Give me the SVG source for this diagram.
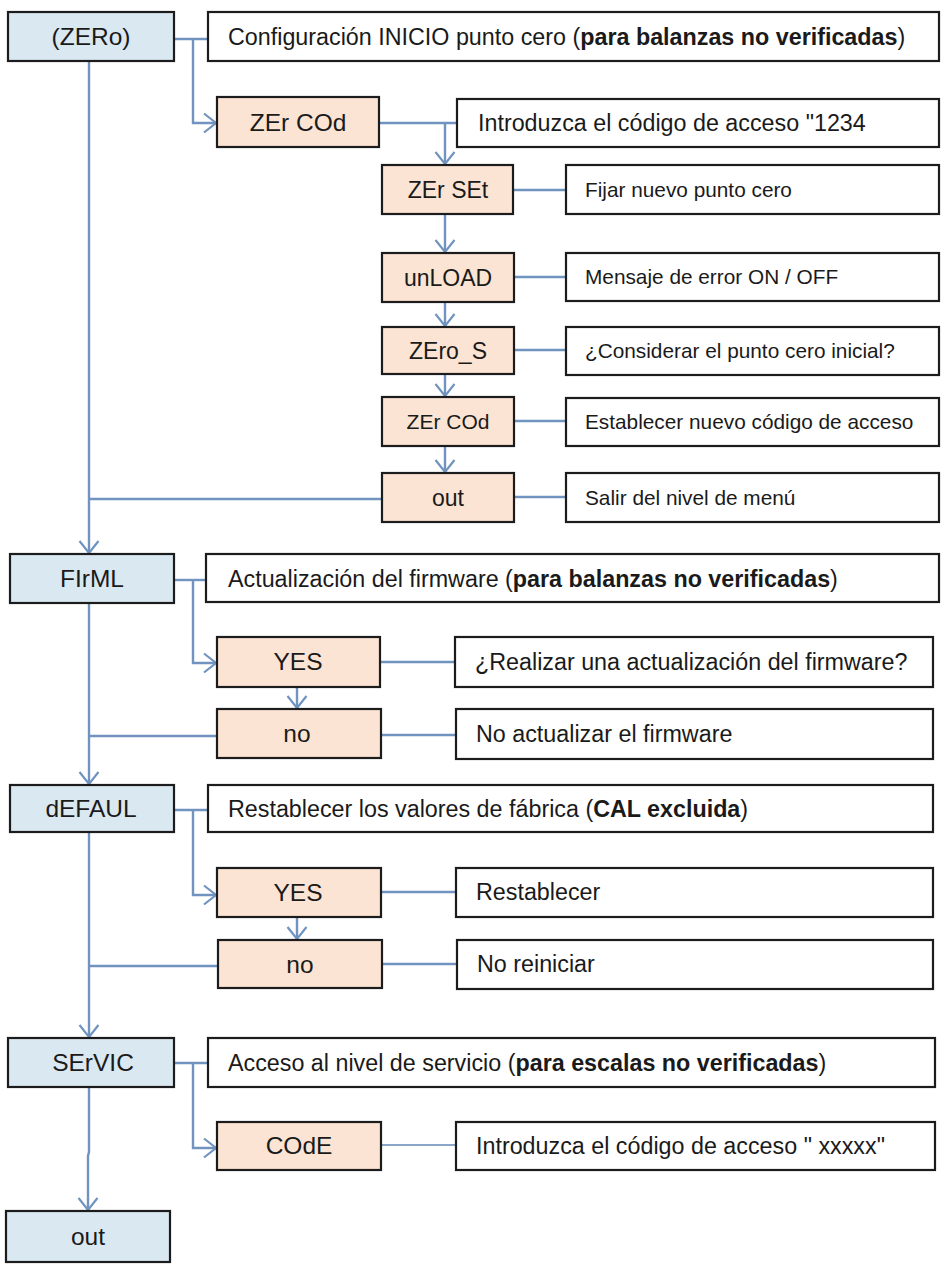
<svg xmlns="http://www.w3.org/2000/svg" width="945" height="1267" viewBox="0 0 945 1267">
<style>
.bg{fill:#ffffff}
.main rect{fill:#dae8f2;stroke:#1c1c1c;stroke-width:2.2}
.sub rect{fill:#fbe4d3;stroke:#1c1c1c;stroke-width:2.2}
.desc rect{fill:#ffffff;stroke:#1c1c1c;stroke-width:2.2}
text{font-family:"Liberation Sans",Arial,Helvetica,sans-serif;fill:#1a1a1a}
.lbl{font-size:24.5px;text-anchor:middle}
.lbls{font-size:23px;text-anchor:middle}
.d{font-size:23.3px}
.ds{font-size:20.8px}
.b{font-weight:bold}
.c{fill:none;stroke:#7093bf;stroke-width:2.4}
.c2{fill:none;stroke:#8aa6c8;stroke-width:1.8}
</style>
<defs>
<marker id="ah" markerWidth="16" markerHeight="22" refX="13" refY="11" orient="auto" markerUnits="userSpaceOnUse">
<path d="M1,1.5 L13,11 L1,20.5" fill="none" stroke="#7093bf" stroke-width="2.2"/>
</marker>
</defs>
<rect class="bg" x="0" y="0" width="945" height="1267"/>

<g id="connectors">
<path class="c" d="M174,39 H208"/>
<path class="c" d="M193,39 V123 H216" marker-end="url(#ah)"/>
<path class="c" d="M89,61 V553" marker-end="url(#ah)"/>
<path class="c" d="M379,123 H457"/>
<path class="c" d="M445,123 V164" marker-end="url(#ah)"/>
<path class="c" d="M513,190 H566"/>
<path class="c" d="M445,214 V252" marker-end="url(#ah)"/>
<path class="c" d="M514,277 H566"/>
<path class="c" d="M445,302 V326" marker-end="url(#ah)"/>
<path class="c" d="M514,350 H566"/>
<path class="c" d="M445,374 V396" marker-end="url(#ah)"/>
<path class="c" d="M514,421 H566"/>
<path class="c" d="M445,446 V472" marker-end="url(#ah)"/>
<path class="c" d="M514,497 H566"/>
<path class="c" d="M382,499 H89"/>
<path class="c" d="M174,580 H206"/>
<path class="c" d="M193,580 V663 H216" marker-end="url(#ah)"/>
<path class="c" d="M89,603 V784" marker-end="url(#ah)"/>
<path class="c" d="M380,662 H455"/>
<path class="c" d="M297,687 V708" marker-end="url(#ah)"/>
<path class="c" d="M381,735 H456"/>
<path class="c" d="M217,736 H89"/>
<path class="c" d="M174,810 H208"/>
<path class="c" d="M193,810 V895 H216" marker-end="url(#ah)"/>
<path class="c" d="M89,832 V1037" marker-end="url(#ah)"/>
<path class="c" d="M381,892 H456"/>
<path class="c" d="M297,917 V939" marker-end="url(#ah)"/>
<path class="c" d="M382,964 H457"/>
<path class="c" d="M218,966 H89"/>
<path class="c" d="M174,1063 H208"/>
<path class="c" d="M193,1063 V1148 H216" marker-end="url(#ah)"/>
<path class="c2" d="M381,1145 H456"/>
<path class="c" d="M89,1087 V1152 L88,1156 V1210" marker-end="url(#ah)"/>
</g>

<g id="n-zero" class="main"><rect x="8" y="12" width="166" height="49"/><text class="lbl" x="91" y="45">(ZERo)</text></g>
<g id="d-zero" class="desc"><rect x="208" y="12" width="731" height="49"/><text class="d" x="228" y="45">Configuración INICIO punto cero (<tspan class="b">para balanzas no verificadas</tspan>)</text></g>
<g id="n-zercod1" class="sub"><rect x="217" y="97" width="162" height="50"/><text class="lbl" x="298" y="131">ZEr COd</text></g>
<g id="d-zercod1" class="desc"><rect x="457" y="99" width="482" height="48"/><text class="d" x="478" y="131">Introduzca el código de acceso "1234</text></g>
<g id="n-zerset" class="sub"><rect x="382" y="165" width="131" height="49"/><text class="lbls" x="448" y="198">ZEr SEt</text></g>
<g id="d-zerset" class="desc"><rect x="566" y="165" width="373" height="49"/><text class="ds" x="585" y="197">Fijar nuevo punto cero</text></g>
<g id="n-unload" class="sub"><rect x="382" y="253" width="132" height="49"/><text class="lbls" x="448" y="286">unLOAD</text></g>
<g id="d-unload" class="desc"><rect x="566" y="253" width="373" height="48"/><text class="ds" x="585" y="284">Mensaje de error ON / OFF</text></g>
<g id="n-zeros" class="sub"><rect x="382" y="327" width="132" height="47"/><text class="lbls" x="448" y="359">ZEro_S</text></g>
<g id="d-zeros" class="desc"><rect x="566" y="327" width="373" height="48"/><text class="ds" x="585" y="358">¿Considerar el punto cero inicial?</text></g>
<g id="n-zercod2" class="sub"><rect x="382" y="397" width="132" height="49"/><text class="lbl" x="448" y="429" style="font-size:21px">ZEr COd</text></g>
<g id="d-zercod2" class="desc"><rect x="566" y="398" width="373" height="48"/><text class="ds" x="585" y="429">Establecer nuevo código de acceso</text></g>
<g id="n-out1" class="sub"><rect x="382" y="473" width="132" height="49"/><text class="lbls" x="448" y="506">out</text></g>
<g id="d-out1" class="desc"><rect x="566" y="473" width="373" height="49"/><text class="ds" x="585" y="505">Salir del nivel de menú</text></g>

<g id="n-firml" class="main"><rect x="10" y="554" width="164" height="49"/><text class="lbl" x="92" y="587">FIrML</text></g>
<g id="d-firml" class="desc"><rect x="206" y="554" width="733" height="48"/><text class="d" x="228" y="587">Actualización del firmware (<tspan class="b">para balanzas no verificadas</tspan>)</text></g>
<g id="n-yes1" class="sub"><rect x="217" y="637" width="163" height="50"/><text class="lbl" x="298" y="670">YES</text></g>
<g id="d-yes1" class="desc"><rect x="455" y="637" width="478" height="50"/><text class="d" x="475" y="670">¿Realizar una actualización del firmware?</text></g>
<g id="n-no1" class="sub"><rect x="217" y="709" width="164" height="49"/><text class="lbl" x="297" y="742">no</text></g>
<g id="d-no1" class="desc"><rect x="456" y="709" width="477" height="50"/><text class="d" x="476" y="742">No actualizar el firmware</text></g>

<g id="n-default" class="main"><rect x="10" y="785" width="164" height="47"/><text class="lbl" x="91" y="817">dEFAUL</text></g>
<g id="d-default" class="desc"><rect x="208" y="785" width="725" height="47"/><text class="d" x="228" y="817">Restablecer los valores de fábrica (<tspan class="b">CAL excluida</tspan>)</text></g>
<g id="n-yes2" class="sub"><rect x="217" y="868" width="164" height="49"/><text class="lbl" x="298" y="901">YES</text></g>
<g id="d-yes2" class="desc"><rect x="456" y="868" width="477" height="49"/><text class="d" x="476" y="900">Restablecer</text></g>
<g id="n-no2" class="sub"><rect x="218" y="940" width="164" height="48"/><text class="lbl" x="300" y="973">no</text></g>
<g id="d-no2" class="desc"><rect x="457" y="940" width="476" height="49"/><text class="d" x="477" y="972">No reiniciar</text></g>

<g id="n-servic" class="main"><rect x="8" y="1038" width="166" height="49"/><text class="lbl" x="93" y="1071">SErVIC</text></g>
<g id="d-servic" class="desc"><rect x="208" y="1038" width="727" height="49"/><text class="d" x="228" y="1071">Acceso al nivel de servicio (<tspan class="b">para escalas no verificadas</tspan>)</text></g>
<g id="n-code" class="sub"><rect x="217" y="1122" width="164" height="48"/><text class="lbl" x="299" y="1154">COdE</text></g>
<g id="d-code" class="desc"><rect x="456" y="1122" width="479" height="48"/><text class="d" x="476" y="1154">Introduzca el código de acceso " xxxxx"</text></g>

<g id="n-out" class="main"><rect x="6" y="1211" width="164" height="51"/><text class="lbl" x="88" y="1245">out</text></g>
</svg>
